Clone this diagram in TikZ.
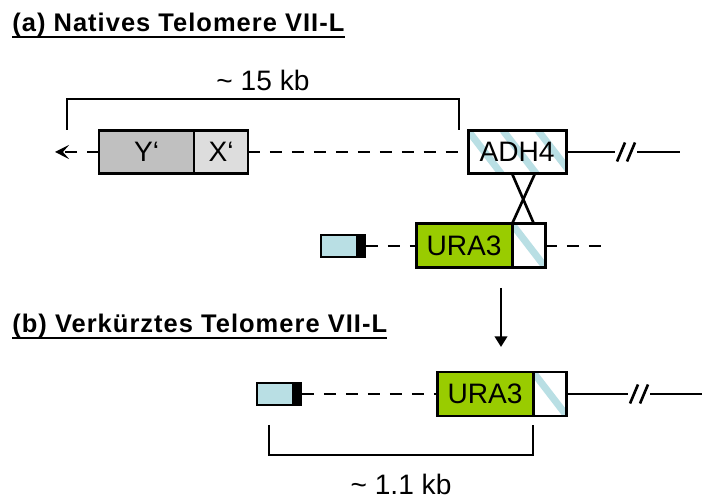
\documentclass[tikz,border=0pt]{standalone}
\usepackage{fontspec}
\setmainfont{Liberation Sans}
\newfontfamily\headfont[LetterSpace=4]{Liberation Sans}
\usetikzlibrary{arrows.meta, positioning, calc}
\definecolor{ygrey}{RGB}{192,192,192}
\definecolor{xgrey}{RGB}{221,221,221}
\definecolor{uragreen}{RGB}{153,204,0}
\definecolor{telocyan}{RGB}{185,223,228}

\begin{document}
\begin{tikzpicture}[every node/.style={font=\fontsize{16}{19}\selectfont},
   gene/.style={draw, line width=1.7pt, outer sep=0pt, inner sep=0pt,
      minimum height=0.86cm},
   hatched/.style={gene, fill=white, path picture={
      \foreach \k in {-3,...,4}
        \draw[telocyan, line width=4pt]
          ([xshift=\k*0.7cm]path picture bounding box.north west) -- ++(1cm,-1.3cm);}},
   telo/.style={draw, line width=1.4pt, fill=telocyan, outer sep=0pt, inner sep=0pt,
      minimum width=0.72cm, minimum height=0.44cm},
   teloend/.style={fill=black, outer sep=0pt, inner sep=0pt,
      minimum width=0.18cm, minimum height=0.49cm},
   chrom/.style={line width=1.5pt},
   gap/.style={chrom, dash pattern=on 7pt off 5.5pt},
   span/.style={line width=1.2pt},
   title/.style={font=\headfont\fontsize{14.5}{17}\selectfont\bfseries, anchor=base west, inner sep=0pt}]
  \useasboundingbox (0,0) rectangle (14.04,10);

  % (a) native end of chromosome VII-L
  \node[title] (tA) at (0.24,9.36) {(a) Natives Telomere VII-L};
  \draw[line width=1.3pt] ([yshift=-3pt]tA.base west) -- ([yshift=-3pt]tA.base east);

  \draw[span] (1.34,7.4) |- node[pos=0.75, above=1pt] (kbA) {\textasciitilde{} 15 kb}
    (9.18,8.02) -- (9.18,7.4);

  \node[gene, fill=ygrey, minimum width=1.9cm] (yp) at (2.93,6.96) {Y‘};
  \node[gene, fill=xgrey, minimum width=1.08cm, right=0cm of yp] (xp) {X‘};
  \node[hatched, minimum width=1.96cm] (adh) at (10.34,6.96) {ADH4};
  \coordinate (tipA) at (1.1,6.96);
  \coordinate (brkA) at (12.52,6.96);
  \coordinate (endA) at (13.6,6.96);

  \draw[gap, -{Stealth[length=8pt, width=8pt, inset=3.5pt]}] (yp.west) -- (tipA);
  \draw[gap] (xp.east) -- (adh.west);
  \draw[chrom] (adh.east) -- ([xshift=-0.22cm]brkA);
  \draw[chrom] ([xshift=0.22cm]brkA) -- (endA);
  \foreach \d in {-0.1,0.1}
    \draw[line width=1.5pt] ([xshift=\d cm-0.08cm, yshift=-0.19cm]brkA) -- ++(0.16cm,0.38cm);

  % incoming URA3 fragment
  \node[gene, fill=uragreen, minimum width=1.92cm, minimum height=0.88cm] (uraA) at (9.28,5.08) {URA3};
  \node[hatched, minimum width=0.66cm, minimum height=0.88cm, right=0cm of uraA] (hatA) {};
  \node[telo] (teloA) at (6.78,5.08) {};
  \node[teloend, right=0cm of teloA] (capA) {};
  \coordinate (endA2) at (12.1,5.08);
  \draw[gap] (capA.east) -- (uraA.west);
  \draw[gap] (hatA.east) -- (endA2);

  % crossover
  \draw[chrom] ([xshift=-0.1cm]adh.south) -- ([xshift=0.44cm]hatA.north west);
  \draw[chrom] ([xshift=0.36cm]adh.south) -- (hatA.north west);

  \coordinate (arrTop) at (10.02,4.24);
  \coordinate (arrBot) at (10.02,3.06);
  \draw[line width=1.4pt, -{Triangle[length=6pt, width=7pt]}] (arrTop) -- (arrBot);

  % (b) shortened end
  \node[title] (tB) at (0.24,3.34) {(b) Verkürztes Telomere VII-L};
  \draw[line width=1.3pt] ([yshift=-3pt]tB.base west) -- ([yshift=-3pt]tB.base east);

  \node[gene, fill=uragreen, minimum width=1.92cm, minimum height=0.88cm] (uraB) at (9.70,2.12) {URA3};
  \node[hatched, minimum width=0.66cm, minimum height=0.88cm, right=0cm of uraB] (hatB) {};
  \node[telo] (teloB) at (5.50,2.12) {};
  \node[teloend, right=0cm of teloB] (capB) {};
  \coordinate (brkB) at (12.78,2.12);
  \coordinate (endB) at (14.04,2.12);
  \draw[gap] (capB.east) -- (uraB.west);
  \draw[chrom] (hatB.east) -- ([xshift=-0.22cm]brkB);
  \draw[chrom] ([xshift=0.22cm]brkB) -- (endB);
  \foreach \d in {-0.1,0.1}
    \draw[line width=1.5pt] ([xshift=\d cm-0.08cm, yshift=-0.19cm]brkB) -- ++(0.16cm,0.38cm);

  \draw[span] (5.38,1.5) -- (5.38,0.9) -- (10.66,0.9) -- (10.66,1.5);
  \node[anchor=base] (kbB) at (8.02,0.1) {\textasciitilde{} 1.1 kb};
\end{tikzpicture}
\end{document}
